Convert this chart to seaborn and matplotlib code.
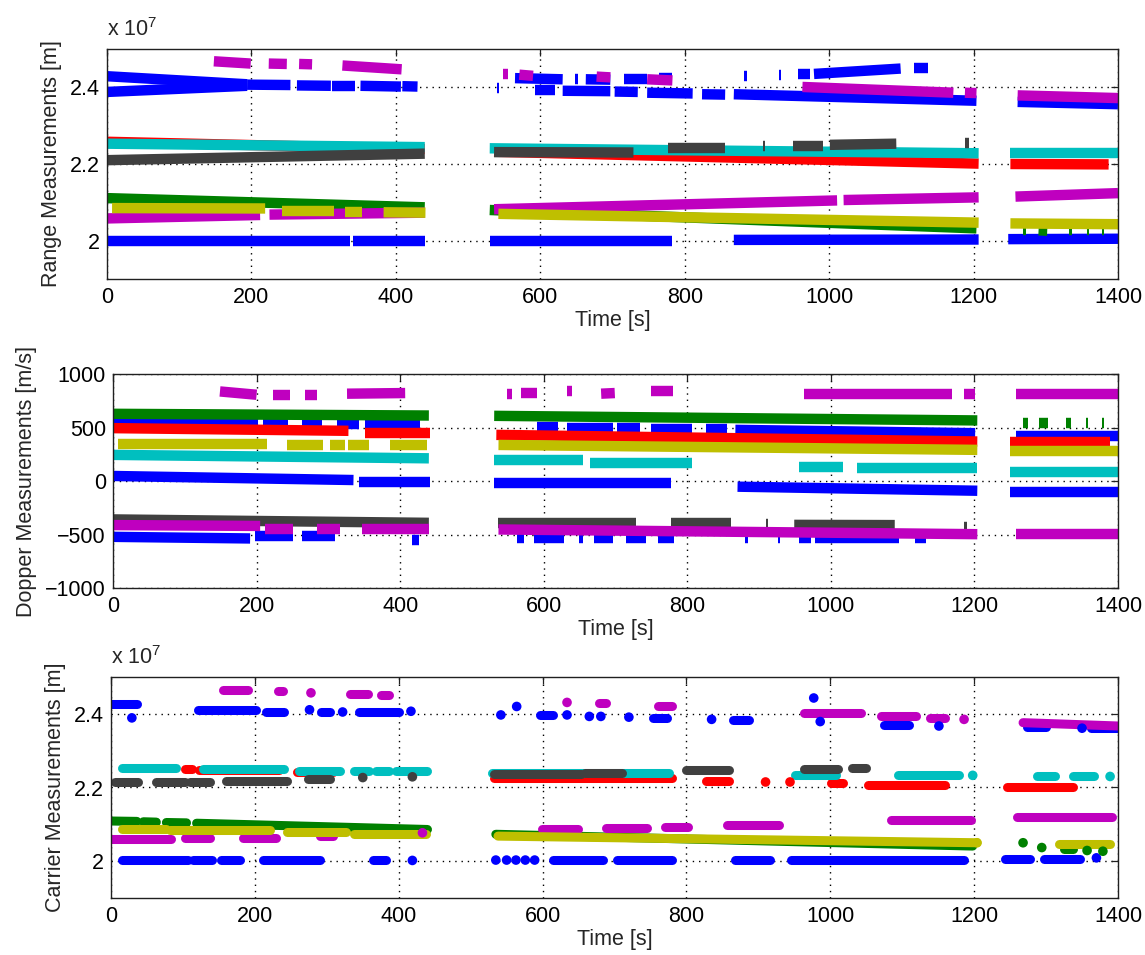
import matplotlib
matplotlib.use("Agg")
import matplotlib.pyplot as plt
import seaborn as sns
import pandas as pd
from matplotlib.ticker import FuncFormatter, FixedLocator

# ---------------- colours (MATLAB default letters) ----------------
COLORS = {"b": "#0000ff", "g": "#008000", "r": "#ff0000", "c": "#00bfbf",
          "m": "#bf00bf", "y": "#bfbf00", "k": "#404040"}

TIME_TICKS = [0, 200, 400, 600, 800, 1000, 1200, 1400]
RANGE_TICKS = [2.0, 2.2, 2.4]          # x 10^7 m
DOPPLER_TICKS = [-1000, -500, 0, 500, 1000]

# ---------------- Range measurements (x1e7 m): (t0, t1, y0, y1) ----------------
range_blue_hi_a = [(0, 194, 2.429, 2.408), (194, 254, 2.407, 2.406), (263, 310, 2.405, 2.404),
                   (312, 344, 2.404, 2.404), (351, 407, 2.404, 2.402), (409, 430, 2.403, 2.402),
                   (565, 631, 2.424, 2.421), (648, 652, 2.421, 2.421), (663, 697, 2.421, 2.420),
                   (716, 748, 2.422, 2.422), (764, 783, 2.424, 2.424), (882, 886, 2.430, 2.430),
                   (930, 934, 2.432, 2.432), (957, 973, 2.434, 2.434), (979, 1099, 2.435, 2.449),
                   (1118, 1137, 2.450, 2.450)]
range_blue_hi_b = [(0, 194, 2.388, 2.404), (540, 543, 2.397, 2.397), (593, 621, 2.394, 2.394),
                   (631, 697, 2.391, 2.390), (703, 735, 2.389, 2.388), (748, 811, 2.386, 2.384),
                   (824, 856, 2.382, 2.381), (868, 1204, 2.382, 2.365), (1261, 1400, 2.362, 2.356)]
range_blue_low = [(0, 337, 2.0, 2.0), (341, 441, 2.0, 2.0), (530, 783, 2.0, 2.0),
                  (868, 1207, 2.002, 2.003), (1248, 1400, 2.004, 2.005)]
range_green = [(0, 440, 2.111, 2.087), (530, 1204, 2.080, 2.032), (1268, 1272, 2.027, 2.027),
               (1290, 1302, 2.027, 2.026), (1332, 1336, 2.027, 2.027), (1357, 1360, 2.027, 2.027),
               (1378, 1381, 2.027, 2.027)]
range_red = [(0, 440, 2.258, 2.239), (536, 1207, 2.232, 2.201), (1251, 1387, 2.200, 2.199)]
range_cyan = [(0, 440, 2.253, 2.244), (530, 1207, 2.241, 2.228), (1251, 1400, 2.228, 2.228)]
range_magenta_hi = [(148, 199, 2.468, 2.462), (224, 249, 2.462, 2.461), (266, 284, 2.461, 2.460),
                    (326, 408, 2.457, 2.447), (548, 555, 2.435, 2.435), (571, 590, 2.433, 2.430),
                    (678, 697, 2.428, 2.426), (748, 783, 2.421, 2.418), (963, 1172, 2.401, 2.386),
                    (1188, 1204, 2.386, 2.385), (1261, 1400, 2.379, 2.372)]
range_magenta_low = [(0, 212, 2.058, 2.067), (225, 440, 2.068, 2.073), (536, 1011, 2.082, 2.105),
                     (1020, 1207, 2.106, 2.113), (1258, 1400, 2.115, 2.124)]
range_yellow = [(7, 219, 2.085, 2.084), (243, 314, 2.078, 2.078), (330, 353, 2.076, 2.076),
                (383, 441, 2.074, 2.073), (542, 1207, 2.070, 2.047), (1251, 1400, 2.045, 2.043)]
range_gray = [(0, 440, 2.210, 2.227), (536, 729, 2.231, 2.230), (777, 856, 2.243, 2.243),
              (908, 911, 2.247, 2.247), (950, 992, 2.248, 2.248), (1001, 1093, 2.250, 2.253),
              (1188, 1193, 2.256, 2.256)]

# ---------------- Doppler measurements (m/s): (t0, t1, y0, y1) ----------------
dop_blue_hi = [(0, 202, 545, 540), (209, 244, 540, 540), (263, 291, 540, 540), (312, 342, 530, 530),
               (351, 428, 525, 525), (591, 620, 509, 509), (632, 696, 500, 500), (702, 734, 500, 500),
               (750, 807, 484, 484), (826, 855, 484, 484), (867, 1201, 478, 447), (1258, 1400, 416, 416)]
dop_blue_mid = [(0, 335, 47, 9), (342, 442, -6, -6), (531, 778, -22, -22), (870, 1204, -53, -91),
                (1249, 1400, -100, -100)]
dop_blue_low = [(0, 191, -522, -537), (198, 251, -516, -516), (263, 309, -516, -516),
                (416, 426, -547, -547), (563, 572, -537, -537), (587, 628, -537, -537),
                (649, 655, -537, -537), (670, 696, -537, -537), (715, 743, -537, -537),
                (759, 782, -537, -537), (881, 884, -537, -537), (926, 929, -537, -537),
                (956, 972, -537, -537), (978, 1095, -537, -537), (1117, 1133, -537, -537)]
dop_green = [(0, 440, 628, 612), (531, 1204, 609, 566), (1268, 1274, 541, 541), (1290, 1303, 541, 541),
             (1328, 1334, 541, 541), (1356, 1358, 541, 541), (1378, 1380, 541, 541)]
dop_red = [(0, 328, 494, 469), (351, 442, 447, 447), (534, 1204, 431, 369), (1249, 1389, 369, 369)]
dop_cyan = [(0, 440, 244, 212), (531, 655, 197, 197), (664, 807, 166, 166), (956, 1017, 134, 134),
            (1036, 1204, 119, 119), (1249, 1400, 87, 87)]
dop_magenta_hi = [(149, 200, 837, 806), (223, 247, 806, 806), (267, 284, 806, 806), (326, 407, 816, 822),
                  (549, 556, 816, 816), (569, 591, 822, 822), (632, 639, 844, 844), (680, 699, 816, 822),
                  (749, 780, 844, 844), (963, 1169, 816, 816), (1185, 1201, 816, 816), (1258, 1400, 816, 816)]
dop_magenta_low = [(0, 205, -412, -420), (212, 251, -444, -444), (284, 316, -444, -444),
                   (347, 440, -444, -444), (537, 1204, -453, -497), (1258, 1400, -497, -497)]
dop_yellow = [(7, 214, 344, 344), (242, 293, 337, 337), (302, 323, 337, 337), (328, 356, 337, 337),
              (386, 437, 337, 337), (537, 1204, 337, 291), (1249, 1400, 284, 284)]
dop_gray = [(0, 440, -359, -391), (537, 728, -391, -391), (778, 861, -397, -397), (909, 912, -400, -400),
            (949, 1089, -410, -412), (1186, 1190, -428, -428)]

# ---------------- Carrier measurements (x1e7 m): clusters (t0, t1, y0, y1) + single points (t, y) ----------------
car_blue_hi = [(0, 36, 2.427, 2.427), (121, 202, 2.410, 2.410), (216, 241, 2.405, 2.405),
               (292, 304, 2.405, 2.405), (345, 401, 2.406, 2.406), (596, 615, 2.397, 2.397),
               (754, 773, 2.388, 2.388), (865, 887, 2.383, 2.383), (1075, 1109, 2.370, 2.370),
               (1274, 1300, 2.363, 2.363), (1363, 1400, 2.361, 2.361)]
car_blue_hi_pts = [(29, 2.389), (276, 2.411), (322, 2.405), (417, 2.407), (542, 2.397), (564, 2.420),
                   (634, 2.397), (665, 2.393), (681, 2.393), (720, 2.391), (835, 2.385), (977, 2.443),
                   (986, 2.379), (1151, 2.367), (1350, 2.361)]
car_blue_low = [(15, 107, 2.002, 2.002), (114, 140, 2.002, 2.002), (153, 179, 2.002, 2.002),
                (211, 290, 2.002, 2.002), (364, 382, 2.002, 2.002), (615, 684, 2.003, 2.003),
                (703, 780, 2.003, 2.003), (868, 916, 2.003, 2.003), (945, 1186, 2.003, 2.003),
                (1243, 1278, 2.007, 2.007), (1297, 1347, 2.007, 2.007)]
car_blue_low_pts = [(419, 2.002), (535, 2.003), (550, 2.003), (563, 2.003), (576, 2.003), (589, 2.003),
                    (1370, 2.009)]
car_green = [(0, 36, 2.109, 2.108), (45, 63, 2.107, 2.106), (77, 105, 2.105, 2.104), (119, 440, 2.103, 2.086),
             (535, 1198, 2.073, 2.041), (1325, 1338, 2.032, 2.032)]
car_green_pts = [(1268, 2.050), (1294, 2.037), (1357, 2.029), (1379, 2.027)]
car_red = [(103, 112, 2.250, 2.250), (123, 234, 2.247, 2.247), (258, 308, 2.241, 2.241),
           (532, 780, 2.226, 2.226), (827, 859, 2.219, 2.219), (1001, 1017, 2.213, 2.213),
           (1052, 1160, 2.208, 2.208), (1246, 1338, 2.201, 2.201)]
car_red_pts = [(910, 2.215), (944, 2.215)]
car_cyan = [(15, 91, 2.252, 2.252), (128, 241, 2.250, 2.250), (262, 318, 2.245, 2.245),
            (338, 359, 2.245, 2.245), (368, 387, 2.245, 2.245), (396, 440, 2.244, 2.244),
            (529, 776, 2.239, 2.239), (951, 1008, 2.233, 2.233), (1094, 1179, 2.233, 2.233),
            (1287, 1312, 2.230, 2.230), (1338, 1366, 2.230, 2.230)]
car_cyan_pts = [(1198, 2.233), (1389, 2.230)]
car_magenta_hi = [(156, 191, 2.466, 2.466), (232, 239, 2.462, 2.462), (332, 357, 2.453, 2.453),
                  (375, 387, 2.450, 2.450), (678, 688, 2.429, 2.429), (760, 780, 2.420, 2.420),
                  (963, 1043, 2.402, 2.402), (1071, 1119, 2.393, 2.393), (1138, 1160, 2.388, 2.388),
                  (1268, 1400, 2.376, 2.367)]
car_magenta_hi_pts = [(278, 2.457), (634, 2.431), (1186, 2.385)]
car_magenta_low = [(0, 84, 2.059, 2.059), (103, 137, 2.062, 2.062), (184, 230, 2.064, 2.064),
                   (290, 308, 2.068, 2.068), (359, 369, 2.075, 2.075), (599, 649, 2.087, 2.087),
                   (688, 745, 2.091, 2.091), (770, 802, 2.093, 2.093), (856, 929, 2.099, 2.099),
                   (1084, 1195, 2.111, 2.111), (1259, 1392, 2.119, 2.119)]
car_magenta_low_pts = [(433, 2.077)]
car_yellow = [(15, 77, 2.086, 2.086), (82, 221, 2.084, 2.084), (244, 327, 2.080, 2.080),
              (338, 438, 2.075, 2.075), (538, 1204, 2.068, 2.050), (1318, 1389, 2.046, 2.046)]
car_yellow_pts = [(1204, 2.050)]
car_gray = [(5, 38, 2.214, 2.214), (63, 103, 2.214, 2.214), (110, 137, 2.216, 2.216),
            (160, 244, 2.218, 2.218), (274, 304, 2.223, 2.223), (532, 653, 2.237, 2.237),
            (659, 710, 2.239, 2.239), (799, 859, 2.247, 2.247), (963, 1011, 2.251, 2.251),
            (1030, 1049, 2.254, 2.254)]
car_gray_pts = [(350, 2.227), (419, 2.229)]

# ---------------- styling ----------------
sns.set_theme(style="white")
plt.rcParams["font.family"] = ["Liberation Sans", "DejaVu Sans"]
plt.rcParams["mathtext.fontset"] = "custom"
plt.rcParams["mathtext.rm"] = "Liberation Sans"
FS = 15.5


def segments_frame(tracks):
    rows = []
    sid = 0
    for order, (ckey, segs) in enumerate(tracks):
        for (t0, t1, y0, y1) in segs:
            rows.append({"t": t0, "y": y0, "seg": sid, "c": ckey, "o": order})
            rows.append({"t": t1, "y": y1, "seg": sid, "c": ckey, "o": order})
            sid += 1
    return pd.DataFrame(rows)


def draw_tracks(ax, tracks, lw, cap):
    df = segments_frame(tracks)
    for order, (ckey, _) in enumerate(tracks):
        sub = df[df["o"] == order]
        sns.lineplot(data=sub, x="t", y="y", units="seg", estimator=None, sort=False,
                     color=COLORS[ckey], linewidth=lw, solid_capstyle=cap, ax=ax, legend=False)


def draw_points(ax, pts_sets):
    rows = []
    for ckey, pts in pts_sets:
        for (t, y) in pts:
            rows.append({"t": t, "y": y, "c": ckey})
    df = pd.DataFrame(rows)
    sns.scatterplot(data=df, x="t", y="y", hue="c", palette=COLORS, s=48, linewidth=0,
                    marker="o", ax=ax, legend=False, zorder=3)


def style_axes(ax, ylabel, yticks, ylim, fmt):
    ax.set_xlim(0, 1400)
    ax.set_ylim(*ylim)
    ax.xaxis.set_major_locator(FixedLocator(TIME_TICKS))
    ax.yaxis.set_major_locator(FixedLocator(yticks))
    ax.yaxis.set_major_formatter(FuncFormatter(fmt))
    ax.xaxis.set_major_formatter(FuncFormatter(lambda v, p: "%d" % v))
    ax.grid(True, color="black", linestyle=(0, (1, 3.5)), linewidth=1.0)
    ax.set_axisbelow(True)
    for sp in ax.spines.values():
        sp.set_color("#202020")
        sp.set_linewidth(1.0)
        sp.set_visible(True)
    ax.tick_params(direction="in", top=True, right=True, length=5, width=0.9,
                   labelsize=FS, colors="#202020", pad=6)
    ax.tick_params(axis="y", pad=5)
    for lab in ax.get_xticklabels() + ax.get_yticklabels():
        lab.set_color("black")
    ax.set_xlabel("Time [s]", fontsize=FS, labelpad=1)
    ax.set_ylabel(ylabel, fontsize=FS, labelpad=6)


def int_minus(v, p):
    s = "%d" % v
    return s.replace("-", "\u2212")


fig = plt.figure(figsize=(11.45, 9.55), dpi=100)
fig.patch.set_facecolor("white")

ax1 = fig.add_axes([107 / 1145, 1 - 279 / 955, 1011 / 1145, 230 / 955])
ax2 = fig.add_axes([113 / 1145, 1 - 588 / 955, 1005 / 1145, 214 / 955])
ax3 = fig.add_axes([111 / 1145, 1 - 898 / 955, 1007 / 1145, 221 / 955])

range_tracks = [("b", range_blue_hi_a), ("b", range_blue_hi_b), ("b", range_blue_low),
                ("g", range_green), ("r", range_red), ("c", range_cyan),
                ("m", range_magenta_hi), ("m", range_magenta_low), ("y", range_yellow),
                ("k", range_gray)]
draw_tracks(ax1, range_tracks, lw=7.5, cap="butt")

dop_tracks = [("b", dop_blue_hi), ("b", dop_blue_mid), ("b", dop_blue_low), ("g", dop_green),
              ("r", dop_red), ("c", dop_cyan), ("m", dop_magenta_hi), ("y", dop_yellow),
              ("k", dop_gray), ("m", dop_magenta_low)]
draw_tracks(ax2, dop_tracks, lw=7.5, cap="butt")

car_tracks = [("b", car_blue_hi), ("b", car_blue_low), ("g", car_green), ("r", car_red),
              ("c", car_cyan), ("m", car_magenta_hi), ("m", car_magenta_low), ("y", car_yellow),
              ("k", car_gray)]
draw_tracks(ax3, car_tracks, lw=6.5, cap="round")
draw_points(ax3, [("b", car_blue_hi_pts), ("b", car_blue_low_pts), ("g", car_green_pts),
                  ("r", car_red_pts), ("c", car_cyan_pts), ("m", car_magenta_hi_pts),
                  ("m", car_magenta_low_pts), ("y", car_yellow_pts), ("k", car_gray_pts)])

fmt_g = lambda v, p: ("%g" % round(v, 3))
style_axes(ax1, "Range Measurements [m]", RANGE_TICKS, (1.9, 2.5), fmt_g)
style_axes(ax2, "Dopper Measurements [m/s]", DOPPLER_TICKS, (-1000, 1000), int_minus)
style_axes(ax3, "Carrier Measurements [m]", RANGE_TICKS, (1.9, 2.5), fmt_g)

for ax in (ax1, ax3):
    ax.text(0.0, 1.035, r"x $\mathregular{10^{7}}$", transform=ax.transAxes, fontsize=FS,
            ha="left", va="bottom")

fig.savefig("out.png", dpi=100, facecolor="white")
